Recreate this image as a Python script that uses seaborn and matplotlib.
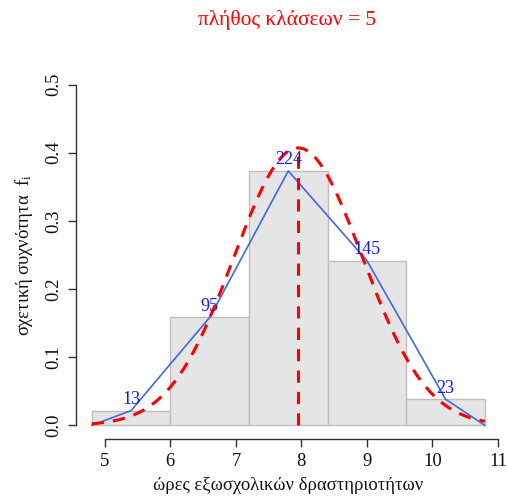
import numpy as np
import pandas as pd
import matplotlib
matplotlib.use("Agg")
import matplotlib.pyplot as plt
import seaborn as sns

sns.set_theme(style="ticks")
plt.rcParams['font.family'] = ['Liberation Serif', 'DejaVu Serif']
plt.rcParams['mathtext.fontset'] = 'stix'

# grouped data: 5 classes
class_edges = [4.8, 6.0, 7.2, 8.4, 9.6, 10.8]
class_mids = [5.4, 6.6, 7.8, 9.0, 10.2]
class_counts = [13, 95, 224, 145, 23]
# fitted normal
fit_mean = 7.95
fit_sd = 0.98

n_total = sum(class_counts)
width = class_edges[1] - class_edges[0]
dens = [c / (n_total * width) for c in class_counts]

df = pd.DataFrame({"mid": class_mids, "count": class_counts})
poly = pd.DataFrame({"x": [class_edges[0]] + class_mids + [class_edges[-1]],
                     "y": [0] + dens + [0]})
xs = np.linspace(class_edges[0], class_edges[-1], 200)
curve = pd.DataFrame({"x": xs,
                      "y": np.exp(-0.5 * ((xs - fit_mean) / fit_sd) ** 2) / (fit_sd * np.sqrt(2 * np.pi))})

fig = plt.figure(figsize=(5.07, 4.99), dpi=100)
ax = fig.add_axes([76 / 507, 60 / 499, (500.6 - 76) / 507, (439 - 71) / 499])

sns.histplot(data=df, x="mid", weights="count", bins=class_edges, stat="density",
             color="#e5e5e5", edgecolor="#bebebe", linewidth=1, alpha=1, ax=ax)
sns.lineplot(data=poly, x="x", y="y", color="#4169e1", linewidth=1.2, ax=ax)
sns.lineplot(data=curve, x="x", y="y", color="red", linewidth=2.2, linestyle=(0, (4, 3)), ax=ax)
ax.axvline(fit_mean, ymin=(0 + 0.02) / 0.54, ymax=(0.405 + 0.02) / 0.54,
           color="red", linewidth=2.2, linestyle=(0, (4, 3)))

for m, d, c in zip(class_mids, dens, class_counts):
    ax.annotate(str(c), (m, d), xytext=(0, 8), textcoords="offset points",
                ha="center", va="center", color="#1a1adb", fontsize=13)

ax.set_xlim(4.56, 11.04)
ax.set_ylim(-0.02, 0.52)
ax.set_xticks([5, 6, 7, 8, 9, 10, 11])
ax.set_yticks([0.0, 0.1, 0.2, 0.3, 0.4, 0.5])
ax.set_yticklabels(["0.0", "0.1", "0.2", "0.3", "0.4", "0.5"], rotation=90, va="center")
ax.tick_params(axis="both", length=6, width=1, color="#333333", labelsize=13.4, pad=4,
               labelcolor="#111111")
sns.despine(ax=ax)
ax.spines["left"].set_bounds(0, 0.5)
ax.spines["bottom"].set_bounds(5, 11)
for s in ("left", "bottom"):
    ax.spines[s].set_color("#333333")
    ax.spines[s].set_linewidth(1)

ax.set_xlabel("ώρες εξωσχολικών δραστηριοτήτων", fontsize=13.4, color="#111111", labelpad=5)
ax.set_ylabel("σχετική συχνότητα  $\\mathregular{f_i}$", fontsize=13.4, color="#111111", labelpad=7)
fig.text(287 / 507, 1 - 20 / 499, "πλήθος κλάσεων = 5", color="red", fontsize=15.5,
         ha="center", va="center")

fig.savefig("out.png", dpi=100)
